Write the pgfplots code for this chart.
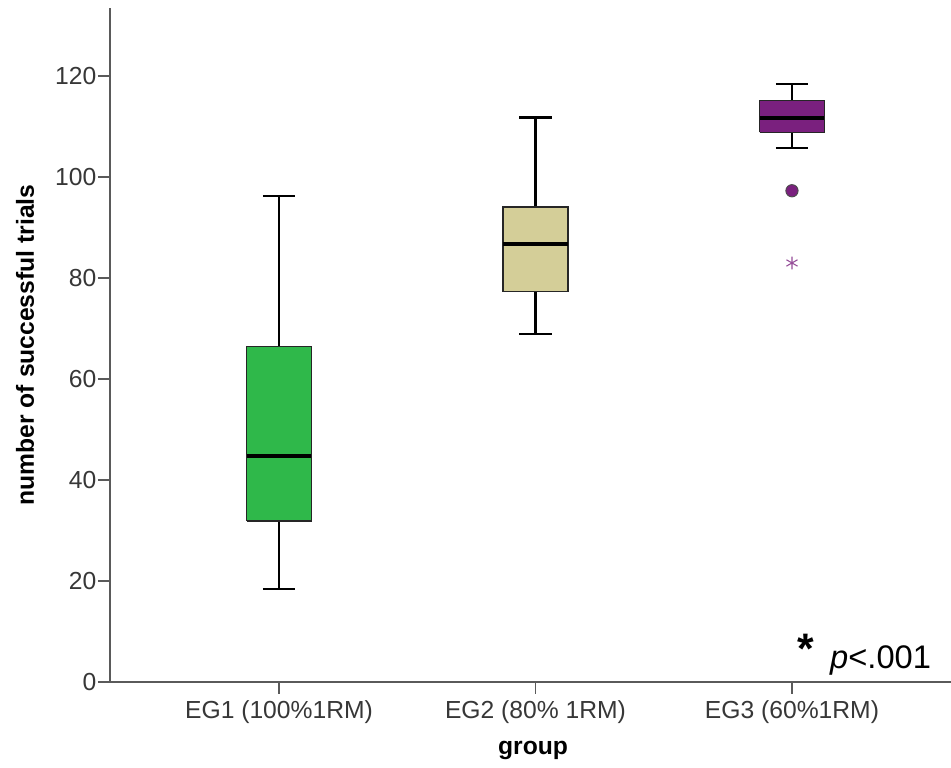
\documentclass[border=0pt]{standalone}
\usepackage{fontspec}
\setmainfont{Liberation Sans}
\usepackage{pgfplots}
\pgfplotsset{compat=1.18}
\definecolor{eggreen}{RGB}{47,184,74}
\definecolor{egbeige}{RGB}{212,206,152}
\definecolor{egpurple}{RGB}{122,32,126}
\definecolor{axgray}{RGB}{90,90,90}
\definecolor{txtgray}{RGB}{55,55,55}
\begin{document}
\begin{tikzpicture}
\path[use as bounding box] (0pt,0pt) rectangle (713.25pt,576pt);
\begin{axis}[
  at={(82.5pt,64.5pt)}, anchor=south west,
  scale only axis, width=630.75pt, height=505.5pt,
  xmin=0.341, xmax=3.62, ymin=0, ymax=133.5,
  axis x line*=bottom, axis y line*=left,
  axis line style={axgray, line width=1.1pt, -},
  xtick={1,2,3},
  xticklabels={EG1 (100\%1RM), EG2 (80\% 1RM), EG3 (60\%1RM)},
  ytick={0,20,...,120},
  tick style={axgray, line width=1.1pt},
  major tick length=9pt,
  tick align=outside,
  ticklabel style={font=\fontsize{18.5}{20}\selectfont, text=txtgray},
  yticklabel style={inner sep=1pt},
  xticklabel style={inner sep=2pt, yshift=-3pt},
  /pgf/number format/assume math mode=true,
  xlabel={group}, ylabel={number of successful trials},
  every axis x label/.style={at={(axis description cs:0.503,-0.101)}, anchor=center, font=\bfseries\fontsize{18.5}{20}\selectfont},
  every axis y label/.style={at={(axis description cs:-0.101,0.5)}, anchor=center, rotate=90, font=\bfseries\fontsize{18.5}{20}\selectfont},
  clip=false,
  whisk/.style={black, line width=1.6pt},
  boxb/.style={draw=black!85, line width=0.9pt},
  med/.style={black, line width=2.6pt},
]
% EG1
\addplot[whisk] coordinates {(1,18.5) (1,31.9)};
\addplot[whisk] coordinates {(1,66.5) (1,96.2)};
\addplot[whisk] coordinates {(0.9375,18.5) (1.0625,18.5)};
\addplot[whisk] coordinates {(0.9375,96.2) (1.0625,96.2)};
\addplot[boxb, fill=eggreen] coordinates {(0.8735,31.9) (1.1265,31.9) (1.1265,66.5) (0.8735,66.5) (0.8735,31.9)};
\addplot[med] coordinates {(0.8735,44.8) (1.1265,44.8)};
% EG2
\addplot[whisk] coordinates {(2,68.9) (2,77.3)};
\addplot[whisk] coordinates {(2,94.1) (2,111.8)};
\addplot[whisk] coordinates {(1.9375,68.9) (2.0625,68.9)};
\addplot[whisk] coordinates {(1.9375,111.8) (2.0625,111.8)};
\addplot[boxb, fill=egbeige] coordinates {(1.8735,77.3) (2.1265,77.3) (2.1265,94.1) (1.8735,94.1) (1.8735,77.3)};
\addplot[med] coordinates {(1.8735,86.8) (2.1265,86.8)};
% EG3
\addplot[whisk] coordinates {(3,105.7) (3,108.9)};
\addplot[whisk] coordinates {(3,115.2) (3,118.4)};
\addplot[whisk] coordinates {(2.9375,105.7) (3.0625,105.7)};
\addplot[whisk] coordinates {(2.9375,118.4) (3.0625,118.4)};
\addplot[boxb, fill=egpurple] coordinates {(2.8735,108.9) (3.1265,108.9) (3.1265,115.2) (2.8735,115.2) (2.8735,108.9)};
\addplot[med] coordinates {(2.8735,111.7) (3.1265,111.7)};
% outliers
\addplot[only marks, mark=*, mark size=4.6pt, mark options={fill=egpurple, draw=black!70, line width=0.7pt}] coordinates {(3,97.3)};
\addplot[only marks, mark=asterisk, mark size=4.8pt, mark options={draw=egpurple!80, line width=0.8pt}] coordinates {(3,83.0)};
\node[anchor=base west, font=\fontsize{24.5}{28}\selectfont, inner sep=0pt] at (axis cs:3.148,2.6) {\textit{p}<.001};
\node[anchor=base, font=\bfseries\fontsize{32}{34}\selectfont, inner sep=0pt] at (axis cs:3.054,3.6) {*};
\end{axis}
\end{tikzpicture}
\end{document}
